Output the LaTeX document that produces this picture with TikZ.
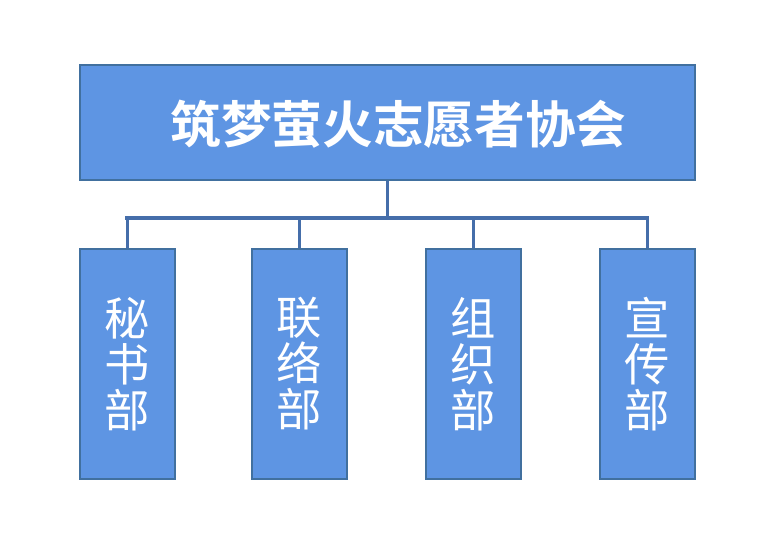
\documentclass[tikz,border=0pt]{standalone}
\usepackage{fontspec}
\newfontfamily\cjk{Noto Sans CJK SC}
\newfontfamily\cjkbold{Noto Sans CJK SC Bold}
\definecolor{boxfill}{HTML}{5E95E3}
\definecolor{boxline}{HTML}{41709F}
\definecolor{wire}{HTML}{456EAA}

\begin{document}
\begin{tikzpicture}[
  x=0.75pt, y=-0.75pt,
  every node/.style={inner sep=0pt},
  org/.style={draw=boxline, line width=1.5pt, fill=boxfill, text=white},
  dept/.style={org, minimum width=71.25pt, minimum height=172.5pt,
    align=center, font=\cjk\fontsize{34}{34.5}\selectfont},
  wire/.style={draw=wire, line width=2.3pt}]

  \useasboundingbox (0,0) rectangle (768,539);

  % --- the association at the top ---
  \node[org, minimum width=461.25pt, minimum height=86.25pt] (top) at (387.5,122.5) {};
  \node[text=white, font=\cjkbold\fontsize{38}{40}\selectfont]
    (title) at ([xshift=8.25pt,yshift=-1pt]top.center) {筑梦萤火志愿者协会};

  % --- the four departments ---
  \node[dept] (mishu)    at (127.5,364) {秘\\书\\部};
  \node[dept] (lianluo)  at (299.5,364) {联\\络\\部};
  \node[dept] (zuzhi)    at (473.5,364) {组\\织\\部};
  \node[dept] (xuanchuan) at (647.5,364) {宣\\传\\部};

  % --- bus line and drops ---
  \coordinate (busL) at (125,218);
  \coordinate (busR) at (649,218);
  \draw[wire] (top.south) -- (top.south |- busL);
  \draw[wire] (busL) -- (busR);
  \foreach \d in {mishu, lianluo, zuzhi, xuanchuan}
    \draw[wire] (\d.north) -- (\d.north |- busL);

\end{tikzpicture}
\end{document}
